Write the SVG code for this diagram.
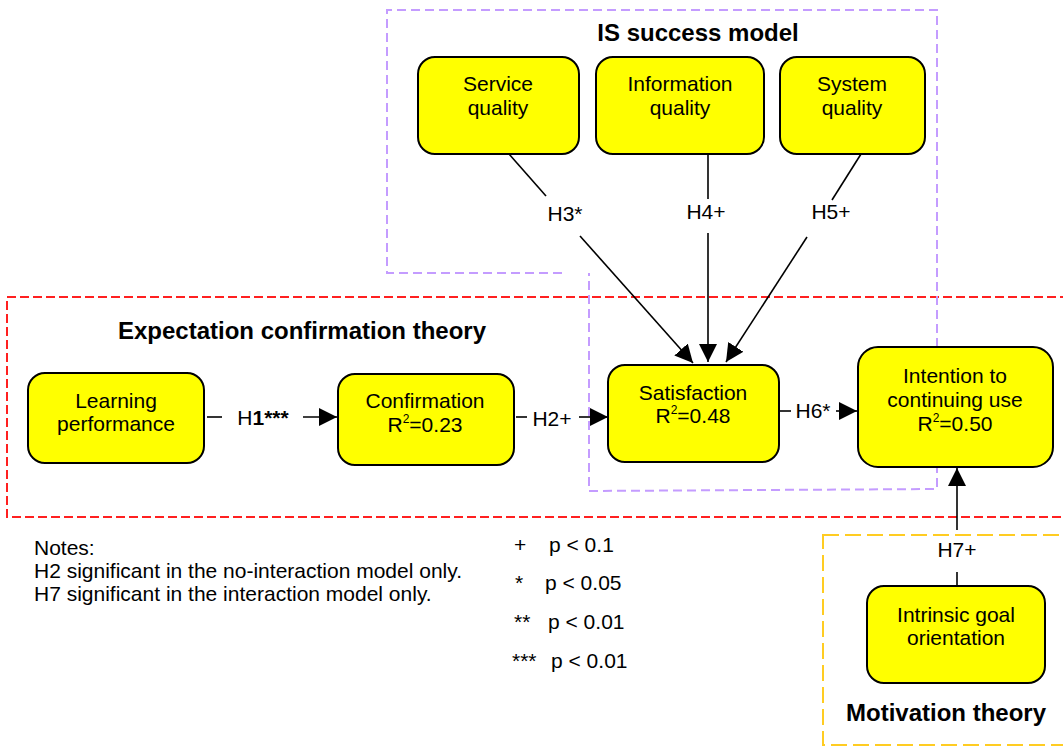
<svg xmlns="http://www.w3.org/2000/svg" width="1063" height="749" viewBox="0 0 1063 749">
  <defs>
    <marker id="arrow" markerUnits="userSpaceOnUse" markerWidth="18" markerHeight="18" refX="18" refY="9" orient="auto">
      <path d="M0,0 L18,9 L0,18 z" fill="#000"/>
    </marker>
    <style>
      .node { fill: #ffff00; stroke: #000; stroke-width: 2; }
      .label { font-family: "Liberation Sans", Arial, sans-serif; font-size: 21px; fill: #000; text-anchor: middle; }
      .plain { font-family: "Liberation Sans", Arial, sans-serif; font-size: 21px; fill: #000; }
      .title { font-family: "Liberation Sans", Arial, sans-serif; font-size: 24px; font-weight: bold; fill: #000; text-anchor: middle; }
      .edge { stroke: #000; stroke-width: 1.6; fill: none; }
      .sup { font-size: 12px; }
      .grp-red { fill: none; stroke: #ff2020; stroke-width: 2; stroke-dasharray: 9 4; }
      .grp-purple { fill: none; stroke: #c49cff; stroke-width: 2; stroke-dasharray: 9 5; }
      .grp-orange { fill: none; stroke: #ffcc22; stroke-width: 2; stroke-dasharray: 16 6; }
    </style>
  </defs>
  <rect width="1063" height="749" fill="#fff"/>

  <!-- theory frames -->
  <g id="frames">
    <rect class="grp-red" x="7" y="297" width="1080" height="220"/>
    <path class="grp-purple" d="M562,273 H387 V10 H937 V489 L589,491 V273"/>
    <rect class="grp-orange" x="823" y="535" width="270" height="210"/>
  </g>

  <!-- frame titles -->
  <g id="titles">
    <text class="title" x="698" y="41">IS success model</text>
    <text class="title" x="302" y="339">Expectation confirmation theory</text>
    <text class="title" x="946" y="721">Motivation theory</text>
  </g>

  <!-- paths between constructs -->
  <g id="connectors">
    <line class="edge" x1="509" y1="154" x2="546" y2="196"/>
    <line class="edge" x1="580" y1="236" x2="693" y2="363" marker-end="url(#arrow)"/>
    <line class="edge" x1="708" y1="154" x2="708" y2="199"/>
    <line class="edge" x1="708" y1="233" x2="708" y2="362" marker-end="url(#arrow)"/>
    <line class="edge" x1="861" y1="154" x2="832" y2="200"/>
    <line class="edge" x1="807" y1="237" x2="726" y2="362" marker-end="url(#arrow)"/>
    <line class="edge" x1="207" y1="417" x2="222" y2="417"/>
    <line class="edge" x1="303" y1="417" x2="337" y2="417" marker-end="url(#arrow)"/>
    <line class="edge" x1="516" y1="417" x2="527" y2="417"/>
    <line class="edge" x1="579" y1="417" x2="608" y2="417" marker-end="url(#arrow)"/>
    <line class="edge" x1="779" y1="411" x2="791" y2="411"/>
    <line class="edge" x1="836" y1="411" x2="857" y2="411" marker-end="url(#arrow)"/>
    <line class="edge" x1="957" y1="586" x2="957" y2="572"/>
    <line class="edge" x1="957" y1="530" x2="957" y2="468" marker-end="url(#arrow)"/>
    <text class="label" x="565" y="221">H3*</text>
    <text class="label" x="706" y="219">H4+</text>
    <text class="label" x="831" y="219">H5+</text>
    <text class="label" x="263" y="425">H<tspan font-weight="bold">1***</tspan></text>
    <text class="label" x="552" y="426">H2+</text>
    <text class="label" x="813" y="418">H6*</text>
    <text class="label" x="957" y="557">H7+</text>
  </g>

  <g id="service-quality">
    <rect class="node" x="418" y="57" width="161" height="97" rx="17"/>
    <text class="label" x="498" y="91">Service</text>
    <text class="label" x="498" y="115">quality</text>
  </g>

  <g id="information-quality">
    <rect class="node" x="596" y="57" width="168" height="97" rx="17"/>
    <text class="label" x="680" y="91">Information</text>
    <text class="label" x="680" y="115">quality</text>
  </g>

  <g id="system-quality">
    <rect class="node" x="780" y="57" width="145" height="97" rx="17"/>
    <text class="label" x="852" y="91">System</text>
    <text class="label" x="852" y="115">quality</text>
  </g>

  <g id="learning-performance">
    <rect class="node" x="28" y="373" width="176" height="90" rx="17"/>
    <text class="label" x="116" y="408">Learning</text>
    <text class="label" x="116" y="431">performance</text>
  </g>

  <g id="confirmation">
    <rect class="node" x="338" y="374" width="176" height="91" rx="17"/>
    <text class="label" x="425" y="408">Confirmation</text>
    <text class="label" x="425" y="432">R<tspan class="sup" dy="-9">2</tspan><tspan dy="9">=0.23</tspan></text>
  </g>

  <g id="satisfaction">
    <rect class="node" x="608" y="365" width="171" height="97" rx="17"/>
    <text class="label" x="693" y="400">Satisfaction</text>
    <text class="label" x="693" y="423">R<tspan class="sup" dy="-9">2</tspan><tspan dy="9">=0.48</tspan></text>
  </g>

  <g id="intention">
    <rect class="node" x="858" y="347" width="195" height="120" rx="20"/>
    <text class="label" x="955" y="383">Intention to</text>
    <text class="label" x="955" y="407">continuing use</text>
    <text class="label" x="955" y="431">R<tspan class="sup" dy="-9">2</tspan><tspan dy="9">=0.50</tspan></text>
  </g>

  <g id="intrinsic-goal">
    <rect class="node" x="867" y="586" width="178" height="97" rx="17"/>
    <text class="label" x="956" y="622">Intrinsic goal</text>
    <text class="label" x="956" y="645">orientation</text>
  </g>

  <!-- notes and significance legend -->
  <g id="notes">
    <text class="plain" x="34" y="555">Notes:</text>
    <text class="plain" x="34" y="578">H2 significant in the no-interaction model only.</text>
    <text class="plain" x="34" y="601">H7 significant in the interaction model only.</text>
  </g>
  <g id="legend">
    <text class="plain" x="514" y="552">+</text>
    <text class="plain" x="549" y="552">p &lt; 0.1</text>
    <text class="plain" x="515" y="590">*</text>
    <text class="plain" x="545" y="590">p &lt; 0.05</text>
    <text class="plain" x="514" y="629">**</text>
    <text class="plain" x="548" y="629">p &lt; 0.01</text>
    <text class="plain" x="512" y="668">***</text>
    <text class="plain" x="551" y="668">p &lt; 0.01</text>
  </g>
</svg>
